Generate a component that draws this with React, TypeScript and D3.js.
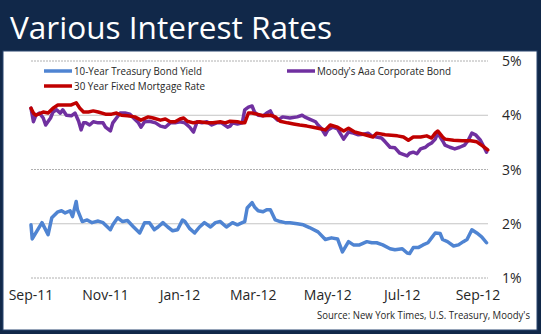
import React from "react";
import * as d3 from "d3";

const treasuryDates = [
  "2011-09-01","2011-09-02","2011-09-10","2011-09-15","2011-09-18","2011-09-23","2011-09-26","2011-09-29",
  "2011-10-03","2011-10-05","2011-10-08","2011-10-09","2011-10-13","2011-10-17","2011-10-21","2011-10-26","2011-10-30",
  "2011-11-05","2011-11-07","2011-11-11","2011-11-15","2011-11-19","2011-11-24","2011-11-29",
  "2011-12-03","2011-12-07","2011-12-11","2011-12-14","2011-12-18","2011-12-22","2011-12-26","2011-12-30",
  "2012-01-03","2012-01-05","2012-01-09","2012-01-13","2012-01-17","2012-01-21","2012-01-26","2012-01-30",
  "2012-02-03","2012-02-08","2012-02-13","2012-02-17","2012-02-21","2012-02-23","2012-02-25","2012-02-29",
  "2012-03-02","2012-03-05","2012-03-09","2012-03-12","2012-03-15","2012-03-19","2012-03-23","2012-03-27","2012-03-31",
  "2012-04-06","2012-04-11","2012-04-16","2012-04-23","2012-04-29",
  "2012-05-04","2012-05-09","2012-05-13","2012-05-18","2012-05-22","2012-05-27",
  "2012-06-02","2012-06-06","2012-06-10","2012-06-15","2012-06-21","2012-06-25",
  "2012-07-01","2012-07-05","2012-07-07","2012-07-10","2012-07-14","2012-07-18","2012-07-22","2012-07-25","2012-07-28",
  "2012-08-01","2012-08-03","2012-08-07","2012-08-12","2012-08-16","2012-08-20","2012-08-23","2012-08-27","2012-08-31",
  "2012-09-04","2012-09-08",
];
const treasuryValues = [
  1.98,1.72,2.02,1.80,2.11,2.22,2.24,2.20,2.24,2.13,
  2.41,2.26,2.04,2.07,2.02,2.05,2.02,1.89,1.98,2.11,
  2.04,2.06,1.94,1.83,2.02,2.02,1.89,1.94,2.02,1.94,
  1.87,1.89,2.07,2.04,1.91,1.83,1.94,2.02,1.94,2.02,
  2.04,1.94,2.02,1.98,2.02,2.04,2.29,2.39,2.31,2.24,
  2.22,2.26,2.26,2.07,2.04,2.02,2.02,2.00,1.98,1.93,
  1.85,1.71,1.74,1.72,1.48,1.67,1.61,1.61,1.67,1.65,
  1.65,1.61,1.54,1.52,1.54,1.46,1.45,1.56,1.56,1.61,
  1.65,1.74,1.83,1.82,1.71,1.67,1.59,1.61,1.67,1.71,
  1.89,1.83,1.76,1.65,
];

const moodysDates = [
  "2011-09-01","2011-09-03","2011-09-05","2011-09-08","2011-09-11","2011-09-13","2011-09-17","2011-09-19","2011-09-22","2011-09-25",
  "2011-09-27","2011-09-30","2011-10-04","2011-10-07","2011-10-10","2011-10-12","2011-10-14","2011-10-16","2011-10-19","2011-10-22",
  "2011-10-26","2011-10-30","2011-11-01","2011-11-05","2011-11-07","2011-11-10","2011-11-13","2011-11-17","2011-11-21","2011-11-24",
  "2011-11-28","2011-11-30","2011-12-03","2011-12-07","2011-12-12","2011-12-16","2011-12-20","2011-12-24","2011-12-28","2012-01-01",
  "2012-01-05","2012-01-09","2012-01-12","2012-01-15","2012-01-19","2012-01-23","2012-01-27","2012-01-31","2012-02-04","2012-02-09",
  "2012-02-11","2012-02-13","2012-02-17","2012-02-21","2012-02-23","2012-02-26","2012-02-29","2012-03-02","2012-03-05","2012-03-09",
  "2012-03-12","2012-03-15","2012-03-17","2012-03-21","2012-03-25","2012-03-31","2012-04-06","2012-04-10","2012-04-12","2012-04-16",
  "2012-04-21","2012-04-23","2012-04-26","2012-04-29","2012-05-01","2012-05-05","2012-05-09","2012-05-14","2012-05-18","2012-05-22",
  "2012-05-26","2012-05-30","2012-06-03","2012-06-06","2012-06-10","2012-06-14","2012-06-17","2012-06-21","2012-06-25","2012-06-29",
  "2012-07-05","2012-07-07","2012-07-10","2012-07-13","2012-07-16","2012-07-20","2012-07-22","2012-07-25","2012-07-28","2012-07-30",
  "2012-08-03","2012-08-05","2012-08-09","2012-08-13","2012-08-17","2012-08-21","2012-08-24","2012-08-27","2012-08-30","2012-09-03",
  "2012-09-06","2012-09-08",
];
const moodysValues = [
  4.13,3.88,4.00,4.04,3.95,3.82,3.95,4.06,4.10,4.04,
  4.10,4.00,3.99,4.04,3.89,3.73,3.86,3.86,3.82,3.88,
  3.86,3.86,3.78,3.71,3.86,3.95,4.04,4.04,4.02,3.95,
  3.86,3.78,3.88,3.89,3.86,3.80,3.78,3.86,3.86,3.88,
  3.86,3.78,3.69,3.88,3.86,3.88,3.82,3.86,3.86,3.78,
  3.80,3.86,3.84,3.86,4.10,4.15,4.17,4.06,4.00,3.99,
  4.04,4.08,3.99,3.91,3.97,3.95,3.97,4.00,3.97,3.93,
  3.88,3.82,3.75,3.64,3.73,3.78,3.75,3.56,3.69,3.67,
  3.64,3.65,3.67,3.62,3.60,3.58,3.51,3.41,3.40,3.30,
  3.25,3.30,3.32,3.29,3.38,3.41,3.45,3.49,3.56,3.67,
  3.53,3.45,3.41,3.38,3.41,3.45,3.54,3.67,3.64,3.54,
  3.41,3.32,
];

const mortgageDates = [
  "2011-09-01","2011-09-03","2011-09-05","2011-09-11","2011-09-15","2011-09-19","2011-09-23","2011-09-29","2011-10-04","2011-10-08",
  "2011-10-11","2011-10-14","2011-10-18","2011-10-22","2011-10-26","2011-11-01","2011-11-06","2011-11-10","2011-11-14","2011-11-19",
  "2011-11-25","2011-11-30","2011-12-06","2011-12-10","2011-12-16","2011-12-20","2011-12-24","2011-12-28","2012-01-01","2012-01-04",
  "2012-01-07","2012-01-12","2012-01-17","2012-01-23","2012-01-28","2012-02-03","2012-02-07","2012-02-11","2012-02-17","2012-02-21",
  "2012-02-23","2012-02-26","2012-02-29","2012-03-04","2012-03-09","2012-03-15","2012-03-19","2012-03-23","2012-03-29","2012-04-03",
  "2012-04-08","2012-04-14","2012-04-19","2012-04-25","2012-04-29","2012-05-03",
  "2012-05-09","2012-05-14","2012-05-18","2012-05-23","2012-05-30","2012-06-07","2012-06-10","2012-06-17","2012-06-27","2012-07-02",
  "2012-07-06","2012-07-10","2012-07-16","2012-07-21","2012-07-25","2012-07-28","2012-07-30","2012-08-03","2012-08-05","2012-08-12",
  "2012-08-19","2012-08-26","2012-08-31","2012-09-05","2012-09-09",
];
const mortgageValues = [
  4.13,4.04,4.00,4.06,4.04,4.13,4.19,4.19,4.19,4.23,
  4.13,4.06,4.06,4.08,4.06,4.02,4.02,4.04,4.00,3.99,
  3.97,3.91,3.97,3.95,3.91,3.93,3.88,3.88,3.93,3.95,
  3.89,3.86,3.88,3.86,3.86,3.88,3.86,3.89,3.88,3.86,
  3.86,4.04,4.04,4.02,3.99,4.00,3.97,3.89,3.86,3.84,
  3.82,3.80,3.78,3.75,3.73,3.82,
  3.78,3.71,3.76,3.69,3.65,3.60,3.67,3.64,3.62,3.60,
  3.54,3.60,3.60,3.62,3.58,3.67,3.71,3.60,3.56,3.54,
  3.53,3.53,3.51,3.43,3.36,
];

const yTicks = [1, 2, 3, 4, 5];
const xTickDates = ["2011-09-01","2011-11-01","2012-01-01","2012-03-01","2012-05-01","2012-07-01","2012-09-01"];

const seriesNames = ["10-Year Treasury Bond Yield", "Moody's Aaa Corporate Bond", "30 Year Fixed Mortgage Rate"];
const title = "Various Interest Rates";
const source = "Source:  New York Times, U.S. Treasury, Moody's";

const parse = d3.timeParse("%Y-%m-%d");
const fmt = d3.timeFormat("%b-%y");

export default function App() {
  const W = 541, H = 334;
  const x = d3.scaleTime().domain([parse("2011-09-01")!, parse("2012-09-01")!]).range([31, 478]);
  const y = d3.scaleLinear().domain([1, 5]).range([278, 61]);
  const line = d3.line<[Date, number]>().x(d => x(d[0])).y(d => y(d[1])).curve(d3.curveLinear);
  const mk = (ds: string[], vs: number[]) => ds.map((d, i) => [parse(d)!, vs[i]] as [Date, number]);
  const series = [
    { name: seriesNames[0], color: "#4f84d2", data: mk(treasuryDates, treasuryValues) },
    { name: seriesNames[1], color: "#7030a0", data: mk(moodysDates, moodysValues) },
    { name: seriesNames[2], color: "#c00000", data: mk(mortgageDates, mortgageValues) },
  ];
  const font = "'Open Sans', 'DejaVu Sans', sans-serif";
  const legendPos = [
    { sx: 44, sy: 71, tx: 74, w: 128 },
    { sx: 287, sy: 71, tx: 317, w: 134 },
    { sx: 44, sy: 86, tx: 74, w: 131 },
  ];
  return (
    <svg width={W} height={H} style={{ position: "absolute", left: 0, top: 0 }}>
      <rect x={0} y={0} width={W} height={H} fill="#112849" />
      <text x={10} y={39} fill="#ffffff" fontFamily={font} fontSize={31} textLength={322} lengthAdjust="spacingAndGlyphs">{title}</text>
      <rect x={3} y={51} width={534} height={279} fill="#ffffff" stroke="#2a4670" strokeWidth={1} />
      {yTicks.map(t => (
        <line key={t} x1={31} x2={488} y1={y(t)} y2={y(t)}
          stroke={t % 2 === 0 ? "#c4c4c4" : "#b0b0b0"} strokeWidth={1}
          strokeDasharray={t % 2 === 0 ? undefined : "2,1"} />
      ))}
      {yTicks.map(t => (
        <text key={"l" + t} x={502} y={y(t) + 5} fill="#262626" fontFamily={font} fontSize={14}>{t}%</text>
      ))}
      {xTickDates.map(d => (
        <text key={d} x={x(parse(d)!)} y={300} textAnchor="middle" fill="#262626" fontFamily={font} fontSize={14}>{fmt(parse(d)!)}</text>
      ))}
      {series.map(s => (
        <path key={s.name} d={line(s.data) || ""} fill="none" stroke={s.color} strokeWidth={3.5} strokeLinejoin="round" strokeLinecap="round" />
      ))}
      {series.map((s, i) => (
        <g key={"lg" + i}>
          <line x1={legendPos[i].sx} x2={legendPos[i].sx + 28} y1={legendPos[i].sy} y2={legendPos[i].sy} stroke={s.color} strokeWidth={3.5} />
          <text x={legendPos[i].tx} y={legendPos[i].sy + 4} fill="#262626" fontFamily={font} fontSize={11.5} textLength={legendPos[i].w} lengthAdjust="spacingAndGlyphs">{s.name}</text>
        </g>
      ))}
      <text x={317} y={319} fill="#262626" fontFamily={font} fontSize={10} textLength={213} lengthAdjust="spacingAndGlyphs">{source}</text>
    </svg>
  );
}
